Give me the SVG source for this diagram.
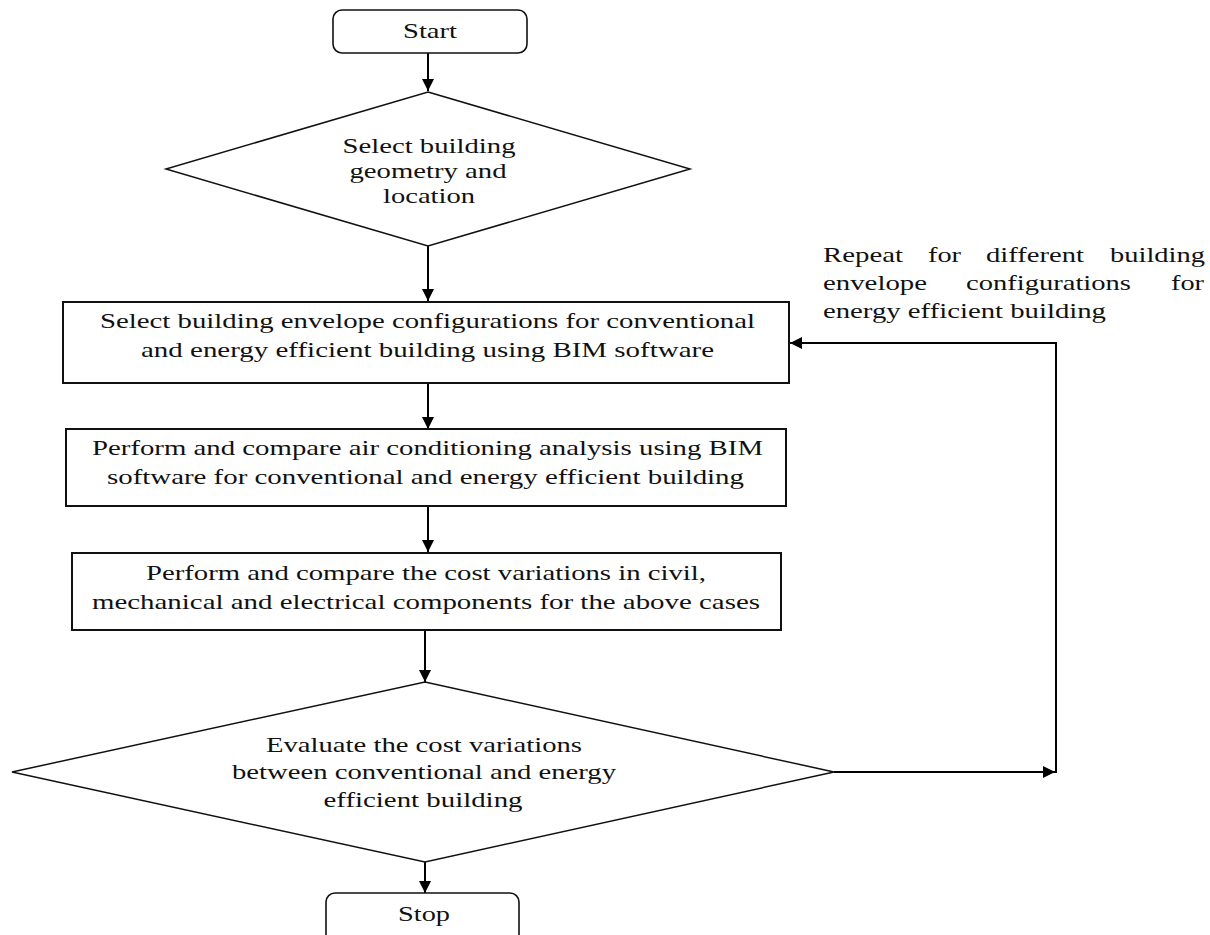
<svg xmlns="http://www.w3.org/2000/svg" width="1210" height="935" viewBox="0 0 1210 935">
<style>
.t{font-family:"Liberation Serif","Times New Roman",serif;font-size:22px;fill:#111;}
.m{text-anchor:middle;}
.box{fill:#fff;stroke:#111;stroke-width:2;}
.rnd{fill:#fff;stroke:#111;stroke-width:1.6;}
.dia{fill:#fff;stroke:#111;stroke-width:1.5;}
.c{fill:none;stroke:#000;stroke-width:2;}
</style>
<defs>
<marker id="ah" markerUnits="userSpaceOnUse" markerWidth="13" markerHeight="13" refX="12" refY="6" orient="auto">
<path d="M0,0 L12,6 L0,12 Z" fill="#000"/>
</marker>
</defs>
<rect width="1210" height="935" fill="#fff"/>
<g id="connectors">
<line class="c" x1="428" y1="53" x2="428" y2="91" marker-end="url(#ah)"/>
<line class="c" x1="428" y1="246" x2="428" y2="301" marker-end="url(#ah)"/>
<line class="c" x1="428" y1="383" x2="428" y2="429" marker-end="url(#ah)"/>
<line class="c" x1="428" y1="506" x2="428" y2="552" marker-end="url(#ah)"/>
<line class="c" x1="425" y1="630" x2="425" y2="682" marker-end="url(#ah)"/>
<line class="c" x1="425" y1="862" x2="425" y2="893" marker-end="url(#ah)"/>
<line class="c" x1="834" y1="772" x2="1055" y2="772" marker-end="url(#ah)"/>
<path class="c" d="M1056,773 V343 H790" marker-end="url(#ah)"/>
</g>
<g id="start">
<rect class="rnd" x="333" y="10" width="194" height="43" rx="9"/>
<text class="t m" x="430" y="38" textLength="54" lengthAdjust="spacingAndGlyphs">Start</text>
</g>
<g id="select-geometry">
<polygon class="dia" points="428,92 690,169 428,246 166,169"/>
<text class="t m" x="429" y="153" textLength="173" lengthAdjust="spacingAndGlyphs">Select building</text>
<text class="t m" x="428" y="178" textLength="157" lengthAdjust="spacingAndGlyphs">geometry and</text>
<text class="t m" x="429" y="203" textLength="92" lengthAdjust="spacingAndGlyphs">location</text>
</g>
<g id="select-envelope">
<rect class="box" x="63" y="302" width="726" height="81"/>
<text class="t m" x="427.5" y="328" textLength="655" lengthAdjust="spacingAndGlyphs">Select building envelope configurations for conventional</text>
<text class="t m" x="427.5" y="357" textLength="573" lengthAdjust="spacingAndGlyphs">and energy efficient building using BIM software</text>
</g>
<g id="air-conditioning">
<rect class="box" x="66" y="429" width="720" height="77"/>
<text class="t m" x="427.5" y="455" textLength="671" lengthAdjust="spacingAndGlyphs">Perform and compare air conditioning analysis using BIM</text>
<text class="t m" x="425.5" y="484" textLength="637" lengthAdjust="spacingAndGlyphs">software for conventional and energy efficient building</text>
</g>
<g id="cost-variations">
<rect class="box" x="72" y="553" width="709" height="77"/>
<text class="t m" x="426" y="580" textLength="560" lengthAdjust="spacingAndGlyphs">Perform and compare the cost variations in civil,</text>
<text class="t m" x="426" y="609" textLength="668" lengthAdjust="spacingAndGlyphs">mechanical and electrical components for the above cases</text>
</g>
<g id="evaluate">
<polygon class="dia" points="425,682 834,772 425,862 12,772"/>
<text class="t m" x="424" y="752" textLength="316" lengthAdjust="spacingAndGlyphs">Evaluate the cost variations</text>
<text class="t m" x="424" y="779" textLength="384" lengthAdjust="spacingAndGlyphs">between conventional and energy</text>
<text class="t m" x="423" y="807" textLength="199" lengthAdjust="spacingAndGlyphs">efficient building</text>
</g>
<g id="stop">
<rect class="rnd" x="326" y="893" width="193" height="50" rx="9"/>
<text class="t m" x="424" y="921" textLength="52" lengthAdjust="spacingAndGlyphs">Stop</text>
</g>
<g id="repeat-label">
<text class="t" x="823" y="262" textLength="80" lengthAdjust="spacingAndGlyphs">Repeat</text>
<text class="t" x="928" y="262" textLength="33" lengthAdjust="spacingAndGlyphs">for</text>
<text class="t" x="986" y="262" textLength="98" lengthAdjust="spacingAndGlyphs">different</text>
<text class="t" x="1110" y="262" textLength="95" lengthAdjust="spacingAndGlyphs">building</text>
<text class="t" x="823" y="290" textLength="104" lengthAdjust="spacingAndGlyphs">envelope</text>
<text class="t" x="966" y="290" textLength="165" lengthAdjust="spacingAndGlyphs">configurations</text>
<text class="t" x="1171" y="290" textLength="33" lengthAdjust="spacingAndGlyphs">for</text>
<text class="t" x="823" y="318" textLength="283" lengthAdjust="spacingAndGlyphs">energy efficient building</text>
</g>
</svg>
